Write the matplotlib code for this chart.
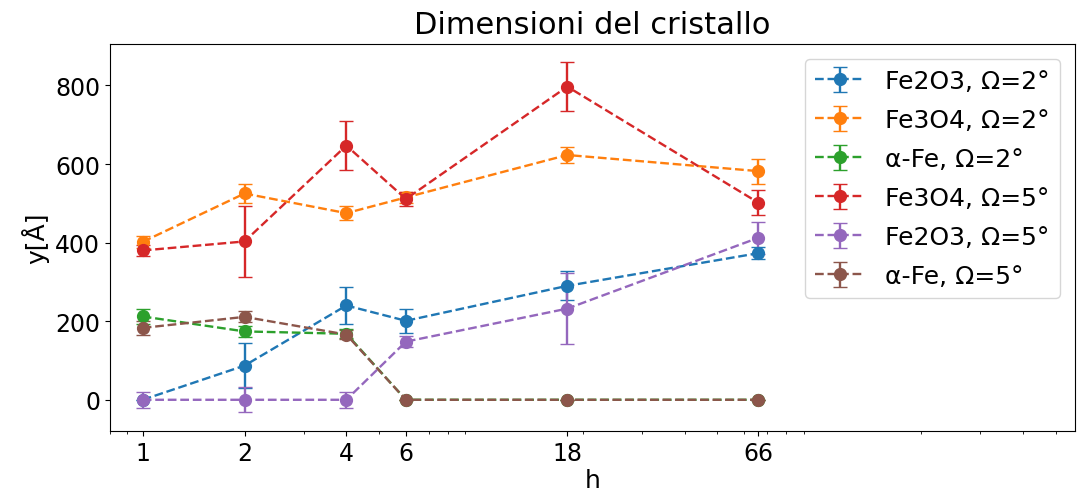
import numpy as np
import matplotlib
matplotlib.use("Agg")
import matplotlib.pyplot as plt

# ore di trattamento
h = [1, 2, 4, 6, 18, 66]

# dimensioni dei cristalliti [Å] e relativi errori
fe2o3_2 = [0, 87, 240, 201, 290, 373]
fe2o3_2_err = [0, 57, 48, 30, 37, 15]
fe3o4_2 = [402, 525, 475, 515, 623, 582]
fe3o4_2_err = [15, 25, 17, 15, 20, 32]
afe_2 = [212, 174, 168, 0, 0, 0]
afe_2_err = [18, 14, 12, 0, 0, 0]
fe3o4_5 = [380, 403, 647, 511, 797, 502]
fe3o4_5_err = [15, 90, 62, 18, 63, 32]
fe2o3_5 = [0, 0, 0, 148, 232, 412]
fe2o3_5_err = [20, 32, 20, 14, 90, 41]
afe_5 = [183, 211, 166, 0, 0, 0]
afe_5_err = [18, 14, 12, 0, 0, 0]

series = [
    (fe2o3_2, fe2o3_2_err, "Fe2O3, Ω=2°"),
    (fe3o4_2, fe3o4_2_err, "Fe3O4, Ω=2°"),
    (afe_2, afe_2_err, "α-Fe, Ω=2°"),
    (fe3o4_5, fe3o4_5_err, "Fe3O4, Ω=5°"),
    (fe2o3_5, fe2o3_5_err, "Fe2O3, Ω=5°"),
    (afe_5, afe_5_err, "α-Fe, Ω=5°"),
]

plt.rcParams["font.size"] = 18

fig, ax = plt.subplots(figsize=(10.78, 5.02), dpi=100)

for y, err, label in series:
    ax.errorbar(h, y, yerr=err, fmt="o--", capsize=5, markersize=8.5,
                linewidth=1.7, label=label)

ax.set_xscale("log")
ax.set_xticks(h)
ax.set_xticklabels([str(v) for v in h])
ax.set_xlim(0.8, 570)
ax.set_ylim(-80, 905)
ax.set_yticks([0, 200, 400, 600, 800])
ax.tick_params(labelsize=17)

ax.set_title("Dimensioni del cristallo", fontsize=22, pad=8)
ax.set_xlabel("h", labelpad=2)
ax.set_ylabel("y[Å]", labelpad=4)
ax.legend(loc="upper right", borderaxespad=0.6, labelspacing=0.6)

fig.subplots_adjust(left=0.102, right=0.997, top=0.91, bottom=0.139)
fig.savefig("out.png")
